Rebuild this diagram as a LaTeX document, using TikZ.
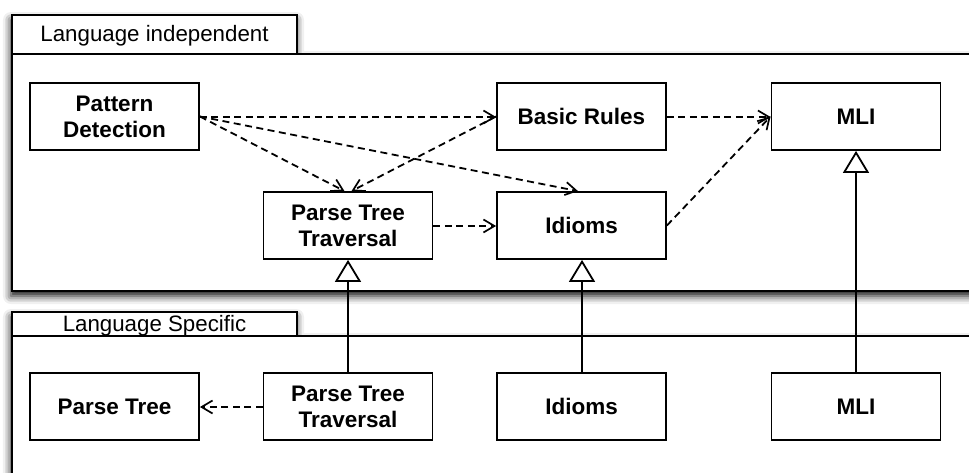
\documentclass[tikz,border=0pt]{standalone}
\usepackage{fontspec}
\setmainfont{Liberation Sans}
\usetikzlibrary{arrows.meta,shadows.blur}
\begin{document}
\begin{tikzpicture}[x=1pt,y=-1pt,
  pkg/.style={draw=black,line width=1.9pt,fill=white,
    blur shadow={shadow xshift=-1pt,shadow yshift=-5pt,shadow blur radius=8pt,shadow opacity=95}},
  cls/.style={draw=black,line width=1.8pt,fill=white,minimum width=169pt,minimum height=67pt,
    inner sep=0pt,align=center,font=\fontsize{22.5}{26}\selectfont\bfseries},
  tabtext/.style={font=\fontsize{22.3}{26}\selectfont,inner sep=0pt,anchor=base},
  dep/.style={line width=1.8pt,dash pattern=on 7pt off 4.5pt,
    -{Straight Barb[length=11pt,width=13pt,line width=1.7pt]}},
  gen/.style={line width=1.8pt,
    -{Triangle[open,fill=white,length=22pt,width=26pt,line width=1.8pt]}}]
\useasboundingbox (0,0) rectangle (969,473);
\clip (0,0) rectangle (969,473);
% top package
\path[pkg] (12,15) -- (297,15) -- (297,54) -- (990,54) -- (990,291) -- (12,291) -- cycle;
\draw[line width=1.9pt] (12,54) -- (297,54);
\node[tabtext] (tabA) at (154.5,42) {Language independent};
% bottom package
\path[pkg] (12,312) -- (297,312) -- (297,336) -- (990,336) -- (990,490) -- (12,490) -- cycle;
\draw[line width=1.9pt] (12,336) -- (297,336);
\node[tabtext] (tabB) at (154.5,331.5) {Language Specific};
% classes top
\node[cls] (pd) at (114.5,116.5) {Pattern\\Detection};
\node[cls] (br) at (581.5,116.5) {Basic Rules};
\node[cls] (mli) at (856,116.5) {MLI};
\node[cls] (ptt) at (348,225.5) {Parse Tree\\Traversal};
\node[cls] (id) at (581.5,225.5) {Idioms};
% classes bottom
\node[cls] (pt2) at (114.5,406.5) {Parse Tree};
\node[cls] (ptt2) at (348,406.5) {Parse Tree\\Traversal};
\node[cls] (id2) at (581.5,406.5) {Idioms};
\node[cls] (mli2) at (856,406.5) {MLI};
% dependencies
\draw[dep] ([yshift=-0.5pt]pd.east) -- ([yshift=-0.5pt]br.west);
\draw[dep] (pd.east) -- ([xshift=-3.5pt]ptt.north);
\draw[dep] (pd.east) -- ([xshift=-3.5pt]id.north);
\draw[dep] (br.west) -- ([xshift=3.5pt]ptt.north);
\draw[dep] ([yshift=-0.5pt]ptt.east) -- ([yshift=-0.5pt]id.west);
\draw[dep] ([yshift=-0.5pt]br.east) -- ([yshift=-0.5pt]mli.west);
\draw[dep] (id.east) -- (mli.west);
\draw[dep] ([yshift=-0.5pt]ptt2.west) -- ([yshift=-0.5pt]pt2.east);
% generalizations
\draw[gen] (ptt2.north) -- (ptt.south);
\draw[gen] ([xshift=0.5pt]id2.north) -- ([xshift=0.5pt]id.south);
\draw[gen] (mli2.north) -- (mli.south);
\end{tikzpicture}
\end{document}
